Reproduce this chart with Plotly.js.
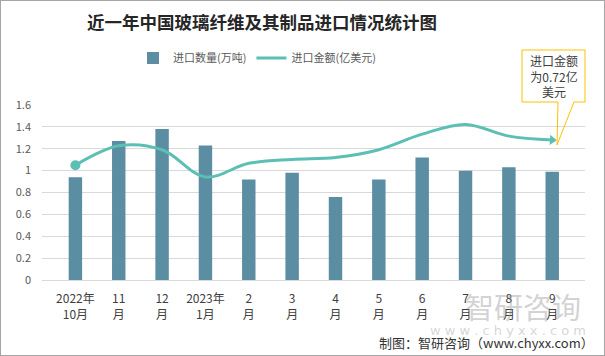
<!DOCTYPE html>
<html>
<head>
<meta charset="utf-8">
<script src="https://cdn.plot.ly/plotly-3.0.1.min.js"></script>
<style>
html,body{margin:0;padding:0;background:#fff;}
#wrap{width:603px;height:354px;border:1px solid #a6a6a6;}
#chart{width:603px;height:354px;}
</style>
</head>
<body>
<div id="wrap"><div id="chart"></div></div>
<script>
const categories = ["2022年10月","11月","12月","2023年1月","2月","3月","4月","5月","6月","7月","8月","9月"];
const tickLabels = ["2022年<br>10月","11<br>月","12<br>月","2023年<br>1月","2<br>月","3<br>月","4<br>月","5<br>月","6<br>月","7<br>月","8<br>月","9<br>月"];
const importVolume = [0.94, 1.27, 1.38, 1.23, 0.92, 0.98, 0.76, 0.92, 1.12, 1.00, 1.03, 0.99];
const importValue = [0.59, 0.69, 0.67, 0.53, 0.60, 0.62, 0.63, 0.67, 0.75, 0.80, 0.74, 0.72];

const fontCJK = '"Noto Sans CJK SC", "Microsoft YaHei", sans-serif';
const n = categories.length;
const lineColor = '#5CBFB4';

const px = x => (x-42)/543;
const py = y => (280-y)/175;

const data = [
  {
    type:'bar', name:'进口数量(万吨)', x:categories, y:importVolume,
    marker:{color:'#5B8DA3'}, width:0.31, yaxis:'y'
  },
  {
    type:'scatter', mode:'lines', name:'进口金额(亿美元)', x:categories, y:importValue,
    yaxis:'y2', line:{color:lineColor, width:3, shape:'spline', smoothing:1}
  },
  {
    type:'scatter', mode:'markers', showlegend:false, x:[categories[0]], y:[importValue[0]],
    yaxis:'y2', marker:{color:lineColor, symbol:'circle', size:10}
  },
  {
    type:'scatter', mode:'markers', showlegend:false, x:[categories[n-1]], y:[importValue[n-1]],
    yaxis:'y2', marker:{color:lineColor, symbol:'triangle-right', size:9, angle:4, line:{width:0}}
  }
];

const calloutPath = `M ${px(522)} ${py(50)} L ${px(585)} ${py(50)} L ${px(585)} ${py(102)} L ${px(574)} ${py(102)} L ${px(557)} ${py(145)} L ${px(558)} ${py(102)} L ${px(522)} ${py(102)} Z`;

const layout = {
  width:603, height:354,
  margin:{l:41, r:19, t:104, b:75},
  paper_bgcolor:'#fff', plot_bgcolor:'#fff',
  font:{family:fontCJK, color:'#404040'},
  title:{text:'<b>近一年中国玻璃纤维及其制品进口情况统计图</b>', x:261/603, xanchor:'center',
         y:1-22/354, yanchor:'middle', yref:'container', xref:'container',
         font:{size:17.5, color:'#262626', family:fontCJK}},
  showlegend:true,
  legend:{orientation:'h', x:px(133), y:py(58), xanchor:'left', yanchor:'middle',
          font:{size:11, color:'#595959'}, itemwidth:30, tracegroupgap:0, bgcolor:'rgba(0,0,0,0)'},
  xaxis:{type:'category', tickvals:categories, ticktext:tickLabels,
         tickfont:{size:12, color:'#404040'}, showgrid:false, showline:true, linecolor:'#d9d9d9', linewidth:1,
         ticks:'', ticklabelstandoff:8, fixedrange:true},
  yaxis:{range:[0,1.6], dtick:0.2, tickfont:{size:11, color:'#595959'}, gridcolor:'#d9d9d9', gridwidth:1,
         zeroline:false, showline:false, ticks:'', ticklabelstandoff:10, fixedrange:true},
  yaxis2:{range:[0,0.9], overlaying:'y', side:'right', visible:false, fixedrange:true},
  shapes:[
    {type:'path', xref:'paper', yref:'paper', path:calloutPath, fillcolor:'rgba(0,0,0,0)',
     line:{color:'#FFC000', width:1}, layer:'above'}
  ],
  annotations:[
    {xref:'paper', yref:'paper', x:px(553.5), y:py(76), xanchor:'center', yanchor:'middle',
     text:'进口金额<br>为0.72亿<br>美元', showarrow:false, font:{size:12, color:'#404040'}, align:'center'},
    {xref:'paper', yref:'paper', x:px(523), y:py(306), xanchor:'center', yanchor:'middle',
     text:'智研咨询', showarrow:false, font:{size:29, color:'rgba(140,140,140,0.4)'}},
    {xref:'paper', yref:'paper', x:px(508), y:py(330), xanchor:'center', yanchor:'middle',
     text:'w w w . c h y x x . c o m', showarrow:false, font:{size:13, color:'rgba(150,150,150,0.4)', family:'"DejaVu Sans", sans-serif'}},
    {xref:'paper', yref:'paper', x:px(596), y:py(342), xanchor:'right', yanchor:'middle',
     text:'制图：智研咨询（www.chyxx.com）', showarrow:false, font:{size:13, color:'#333333'}}
  ]
};

Plotly.newPlot('chart', data, layout, {displayModeBar:false, staticPlot:true});
</script>
</body>
</html>
